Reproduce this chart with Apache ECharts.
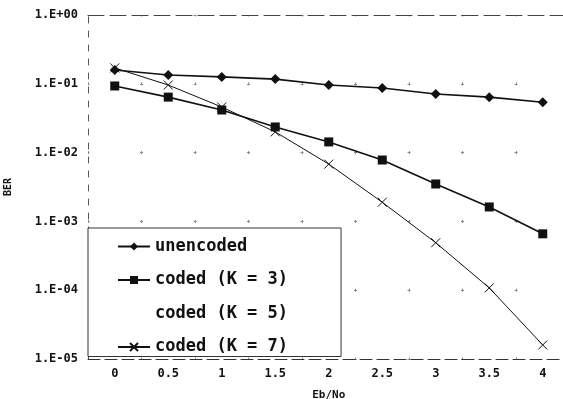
<!DOCTYPE html>
<html>
<head>
<meta charset="utf-8">
<script src="https://cdn.jsdelivr.net/npm/echarts@6/dist/echarts.min.js"></script>
<style>
  html, body { margin: 0; padding: 0; background: #fff; }
  #chart { width: 563px; height: 399px; }
</style>
</head>
<body>
<div id="chart"></div>
<script>
// Eb/No values along the x axis
const ebno = ['0', '0.5', '1', '1.5', '2', '2.5', '3', '3.5', '4'];

// Bit error rate for each scheme
const unencoded = [0.159, 0.134, 0.126, 0.117, 0.096, 0.087, 0.071, 0.064, 0.054];
const codedK3   = [0.093, 0.064, 0.0416, 0.0236, 0.0143, 0.0078, 0.0035, 0.00162, 0.00066];
const codedK5   = [];
const codedK7   = [0.17, 0.096, 0.046, 0.020, 0.0068, 0.0019, 0.00049, 0.000108, 0.000016];

const seriesNames = ['unencoded', 'coded (K = 3)', 'coded (K = 5)', 'coded (K = 7)'];

const INK = '#111';
const MONO = '"DejaVu Sans Mono", "Liberation Mono", monospace';

function decadeLabel(v) {
  const e = Math.round(Math.log10(v));
  const a = Math.abs(e);
  return '1.E' + (e >= 0 ? '+' : '-') + (a < 10 ? '0' : '') + a;
}

const crossPath = 'path://M0,0L10,10M10,0L0,10';

const chart = echarts.init(document.getElementById('chart'), null, { renderer: 'canvas' });

chart.setOption({
  animation: false,
  backgroundColor: '#fff',
  grid: { left: 88, top: 15, bottom: 40, right: -6.5, containLabel: false, outerBoundsMode: 'none' },
  xAxis: [
    {
      type: 'category',
      data: ebno,
      boundaryGap: true,
      axisLine: { show: true, lineStyle: { color: '#333', width: 1, type: [12, 5] } },
      axisTick: { show: false },
      axisLabel: { color: INK, fontFamily: MONO, fontWeight: 'bold', fontSize: 12, margin: 9 },
      splitLine: {
        show: true,
        lineStyle: { color: '#888', width: 1, type: [3, 65.8], dashOffset: 1.5 }
      },
      name: 'Eb/No',
      nameLocation: 'middle',
      nameGap: 31,
      nameTextStyle: { color: INK, fontFamily: MONO, fontWeight: 'bold', fontSize: 11 }
    },
    {
      type: 'category',
      data: ebno,
      position: 'top',
      axisLine: { show: true, lineStyle: { color: '#444', width: 1, type: [16, 6] } },
      axisTick: { show: false },
      axisLabel: { show: false },
      splitLine: { show: false }
    }
  ],
  yAxis: {
    type: 'log',
    logBase: 10,
    min: 1e-5,
    max: 1,
    axisLine: { show: true, lineStyle: { color: '#555', width: 1, type: [6, 8] } },
    axisTick: { show: false },
    axisLabel: {
      color: INK, fontFamily: MONO, fontWeight: 'bold', fontSize: 12, margin: 10,
      formatter: decadeLabel
    },
    splitLine: {
      show: true,
      lineStyle: { color: '#888', width: 1, type: [3, 50.5], dashOffset: 1.5 }
    },
    name: 'BER',
    nameLocation: 'middle',
    nameGap: 75,
    nameRotate: 90,
    nameTextStyle: { color: INK, fontFamily: MONO, fontWeight: 'bold', fontSize: 10 }
  },
  legend: {
    data: seriesNames,
    orient: 'vertical',
    left: 88,
    top: 228,
    itemWidth: 32,
    itemHeight: 10,
    itemGap: 16.5,
    padding: [10, 53, 1, 29],
    backgroundColor: '#fff',
    borderColor: '#333',
    borderWidth: 1,
    textStyle: { color: INK, fontFamily: MONO, fontWeight: 'bold', fontSize: 17 }
  },
  series: [
    {
      name: seriesNames[0],
      type: 'line',
      data: unencoded,
      symbol: 'diamond',
      symbolSize: 10,
      lineStyle: { color: INK, width: 1.6 },
      itemStyle: { color: INK }
    },
    {
      name: seriesNames[1],
      type: 'line',
      data: codedK3,
      symbol: 'rect',
      symbolSize: 9,
      lineStyle: { color: INK, width: 1.6 },
      itemStyle: { color: INK }
    },
    {
      name: seriesNames[2],
      type: 'line',
      data: codedK5,
      symbol: 'none',
      lineStyle: { color: '#fff', width: 0, opacity: 0 },
      itemStyle: { color: '#fff', opacity: 0 }
    },
    {
      name: seriesNames[3],
      type: 'line',
      data: codedK7,
      symbol: crossPath,
      symbolSize: 9,
      lineStyle: { color: INK, width: 1 },
      itemStyle: { color: 'none', borderColor: INK, borderWidth: 1 }
    }
  ]
});
</script>
</body>
</html>
